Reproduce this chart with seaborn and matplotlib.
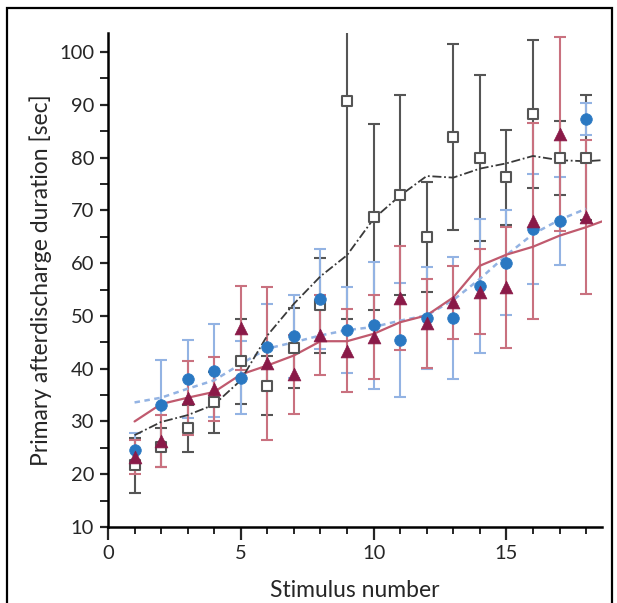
import matplotlib
matplotlib.use("Agg")
import matplotlib.pyplot as plt
import seaborn as sns
import pandas as pd
from matplotlib.patches import Rectangle
from matplotlib.ticker import MultipleLocator

# ---------------- data ----------------
stimulus = list(range(1, 19))

blue_mean = [24.5, 33.2, 38.1, 39.6, 38.3, 44.2, 46.1, 53.2, 47.3, 48.2, 45.5, 49.6, 49.6, 55.7, 60.1, 66.5, 68.0, 87.3]
blue_err = [3.3, 8.5, 7.4, 8.8, 6.9, 8.0, 7.9, 9.4, 8.2, 12.1, 10.8, 9.6, 11.6, 12.7, 9.9, 10.4, 8.3, 3.0]

red_mean = [23.2, 26.3, 34.5, 36.1, 47.7, 41.0, 38.9, 46.4, 43.4, 46.0, 53.4, 48.6, 52.6, 54.6, 55.4, 68.0, 84.4, 68.7]
red_err = [3.2, 4.9, 7.0, 6.1, 8.0, 14.5, 7.5, 7.6, 7.9, 8.0, 9.8, 8.4, 6.9, 8.1, 11.4, 18.6, 18.4, 14.6]

black_mean = [21.7, 25.1, 28.7, 33.6, 41.4, 36.8, 43.9, 52.0, 90.8, 68.8, 72.9, 64.9, 83.9, 79.9, 76.3, 88.3, 80.0, 80.0]
black_err = [5.2, 3.7, 4.5, 5.7, 8.1, 5.6, 7.6, 9.0, 41.3, 17.6, 18.9, 10.4, 17.7, 15.7, 9.0, 14.0, 7.0, 11.8]

# smoothed trend curves
trend_x = [1, 2, 3, 4, 5, 6, 7, 8, 9, 10, 11, 12, 13, 14, 15, 16, 17, 18, 18.6]
red_trend = [30.0, 33.3, 34.5, 35.6, 38.9, 40.6, 42.5, 45.2, 45.2, 46.6, 48.8, 50.1, 53.5, 59.5, 61.6, 63.1, 65.2, 66.8, 67.9]
black_trend = [27.4, 29.9, 31.2, 33.2, 37.8, 46.3, 52.3, 57.5, 61.5, 68.4, 72.8, 76.5, 76.2, 77.9, 78.9, 80.3, 79.5, 79.3, 79.5]
blue_trend_x = list(range(1, 19))
blue_trend = [33.6, 34.5, 36.2, 37.8, 40.9, 43.8, 45.0, 46.3, 47.3, 47.9, 49.1, 50.1, 53.0, 57.0, 61.5, 65.5, 68.2, 70.3]

x_ticks = [0, 5, 10, 15]
y_ticks = [10, 20, 30, 40, 50, 60, 70, 80, 90, 100]

# ---------------- style ----------------
sns.set_style("ticks")
plt.rcParams['font.family'] = ['Lato', 'DejaVu Sans']

BLUE = "#2a78c2"
BLUE_BAR = "#93b3e3"
RED = "#8a1a48"
RED_BAR = "#c9717f"
RED_LINE = "#c05a6e"
GRAY = "#555555"

fig = plt.figure(figsize=(6.17, 6.03), dpi=100)
ax = fig.add_axes([108 / 617, 1 - 527 / 603, (602 - 108) / 617, (527 - 33) / 603])

# error bars
ax.errorbar(stimulus, black_mean, yerr=black_err, fmt='none', ecolor=GRAY,
            elinewidth=1.5, capsize=4.3, capthick=1.5, zorder=2)
ax.errorbar(stimulus, blue_mean, yerr=blue_err, fmt='none', ecolor=BLUE_BAR,
            elinewidth=1.5, capsize=4.3, capthick=1.5, zorder=2.2)
ax.errorbar(stimulus, red_mean, yerr=red_err, fmt='none', ecolor=RED_BAR,
            elinewidth=1.5, capsize=4.3, capthick=1.5, zorder=2.4)

# trend lines
sns.lineplot(x=blue_trend_x, y=blue_trend, ax=ax, color=BLUE_BAR, linewidth=1.8,
             linestyle=(0, (2.2, 1.8)), zorder=3)
sns.lineplot(x=trend_x, y=red_trend, ax=ax, color=RED_LINE, linewidth=1.6, zorder=3.1)
sns.lineplot(x=trend_x, y=black_trend, ax=ax, color="#3a3a3a", linewidth=1.3,
             linestyle=(0, (5, 1.5, 1, 1.5)), zorder=3.2)

# markers
df_sq = pd.DataFrame({"x": stimulus, "y": black_mean})
df_ci = pd.DataFrame({"x": stimulus, "y": blue_mean})
df_tr = pd.DataFrame({"x": stimulus, "y": red_mean})
sns.scatterplot(data=df_sq, x="x", y="y", ax=ax, marker="s", s=60, facecolor="white",
                edgecolor=GRAY, linewidth=1.5, zorder=4)
sns.scatterplot(data=df_ci, x="x", y="y", ax=ax, marker="o", s=70, color=BLUE,
                edgecolor=BLUE, linewidth=0.5, zorder=4.2)
sns.scatterplot(data=df_tr, x="x", y="y", ax=ax, marker="^", s=85, color=RED,
                edgecolor=RED, linewidth=0.5, zorder=4.4)

# axes
ax.set_xlim(0, 18.6)
ax.set_ylim(10, 103.6)
ax.set_xticks(x_ticks)
ax.set_yticks(y_ticks)
ax.xaxis.set_minor_locator(MultipleLocator(1))
ax.yaxis.set_minor_locator(MultipleLocator(5))
ax.tick_params(axis='x', which='major', length=9, width=1.6, labelsize=14.5, pad=4)
ax.tick_params(axis='x', which='minor', length=5, width=1.4)
ax.tick_params(axis='y', which='major', length=6, width=1.6, labelsize=14.5, pad=4)
ax.tick_params(axis='y', which='minor', length=6, width=1.4)
sns.despine(ax=ax)
for s in ("left", "bottom"):
    ax.spines[s].set_linewidth(1.8)
    ax.spines[s].set_color("black")

ax.set_xlabel("Stimulus number", fontsize=16.5, labelpad=13)
ax.set_ylabel("Primary afterdischarge duration [sec]", fontsize=16.5, labelpad=5)

# figure frame
fig.patches.append(Rectangle((7 / 617, -0.05), (612 - 7) / 617, 1 - 8 / 603 + 0.05,
                             transform=fig.transFigure, fill=False, edgecolor="black",
                             linewidth=1.6, clip_on=False))

fig.savefig("out.png", dpi=100)
